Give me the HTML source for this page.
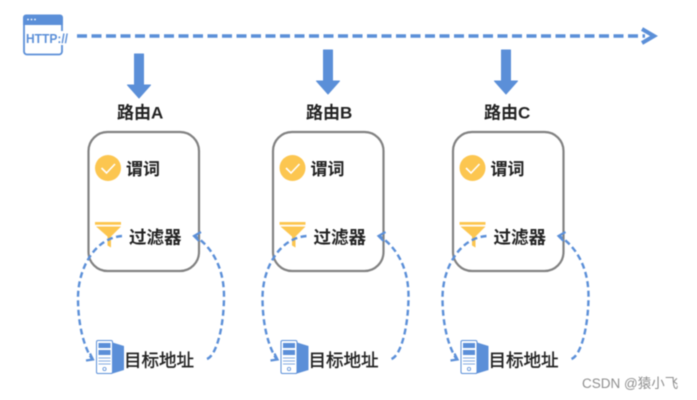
<!DOCTYPE html>
<html><head><meta charset="utf-8">
<style>
html,body{margin:0;padding:0;background:#fff;width:697px;height:400px;overflow:hidden}
svg{display:block;filter:blur(0.4px)}
text{font-family:"Liberation Sans","Noto Sans CJK SC",sans-serif;fill:#222;font-weight:bold}
</style></head>
<body>
<svg width="697" height="400" viewBox="0 0 697 400" xmlns="http://www.w3.org/2000/svg">
<defs>
<g id="grp">
  <rect x="88.500" y="132" width="110.500" height="139" rx="19" fill="none" stroke="#828282" stroke-width="2.200"/>
  <circle cx="108" cy="168" r="13" fill="#fcc650"/>
  <path d="M101.500 168l5 5 8.500-9" fill="none" stroke="#fff" stroke-width="1.600"/>
  <rect x="95" y="222" width="26" height="2.800" fill="#fcc650"/>
  <path d="M96 226.500h25l-10 10v11l-3.500-2v-9z" fill="#fcc650"/>
  <text x="126" y="175" font-size="17">谓词</text>
  <text x="129" y="243.500" font-size="17.500">过滤器</text>
  <text x="124" y="366.500" font-size="17.500" style="font-weight:normal;stroke:#222;stroke-width:.4">目标地址</text>
  <path d="M122 236C95 238 78 268 78 298C78 325 84 347 92 359" fill="none" stroke="#5b8fd8" stroke-width="2.400" stroke-dasharray="6 3.500"/>
  <path d="M86 360.500l7-1-3-6" fill="none" stroke="#5b8fd8" stroke-width="2.200"/>
  <path d="M207 359C217 355 224 325 224 296C224 268 212 247 195 236" fill="none" stroke="#5b8fd8" stroke-width="2.400" stroke-dasharray="6 3.500"/>
  <path d="M201 232l-7 4 5 5" fill="none" stroke="#5b8fd8" stroke-width="2.200"/>
  <path d="M111 342l13 4v24l-13 4z" fill="#5b8fd8"/>
  <rect x="96.500" y="340.500" width="16" height="33" rx="1.500" fill="#fff" stroke="#5b8fd8" stroke-width="1"/>
  <rect x="98.500" y="343" width="12" height="5" fill="#5b8fd8"/>
  <rect x="98.500" y="350" width="12" height="5" fill="#5b8fd8"/>
  <path d="M98.500 358h12M98.500 361h12M98.500 364h12" stroke="#5b8fd8" stroke-width=".8"/>
  <circle cx="104.500" cy="369" r="1.600" fill="none" stroke="#5b8fd8" stroke-width=".8"/>
</g>
<path id="down" d="M-4.500 0h9v31h7l-11.500 13-11.500-13h7z" fill="#5b8fd8" stroke="#5b8fd8" stroke-width="1" stroke-linejoin="round"/>
</defs>

<!-- HTTP icon -->
<rect x="24" y="15.500" width="38" height="39" rx="3" fill="#fff" stroke="#5b8fd8" stroke-width="1.800"/>
<path d="M23 25V17.500a3 3 0 0 1 3-3h34a3 3 0 0 1 3 3V25z" fill="#5b8fd8"/>
<circle cx="28" cy="19.500" r=".9" fill="#fff"/><circle cx="31.500" cy="19.500" r=".9" fill="#fff"/><circle cx="35" cy="19.500" r=".9" fill="#fff"/>
<rect x="60" y="31" width="10" height="14" fill="#fff"/>
<text x="26" y="43" font-size="13" textLength="42" lengthAdjust="spacingAndGlyphs" style="fill:#5b8fd8">HTTP://</text>

<!-- Timeline -->
<line x1="77" y1="36" x2="645" y2="36" stroke="#5b8fd8" stroke-width="3.600" stroke-dasharray="10 4.500"/>
<path d="M642 29l12 7-12 7" fill="none" stroke="#5b8fd8" stroke-width="4"/>

<use href="#down" x="139" y="54"/>
<use href="#down" x="328" y="50"/>
<use href="#down" x="506" y="50"/>

<text x="117" y="118.500" font-size="17">路由A</text>
<text x="306" y="118.500" font-size="17">路由B</text>
<text x="484" y="118.500" font-size="17">路由C</text>

<use href="#grp"/>
<use href="#grp" x="184.500"/>
<use href="#grp" x="364.500"/>

<text x="582" y="388" font-size="13.500" style="fill:#8e8e8e;font-weight:normal">CSDN @猿小飞</text>
</svg>
</body></html>
